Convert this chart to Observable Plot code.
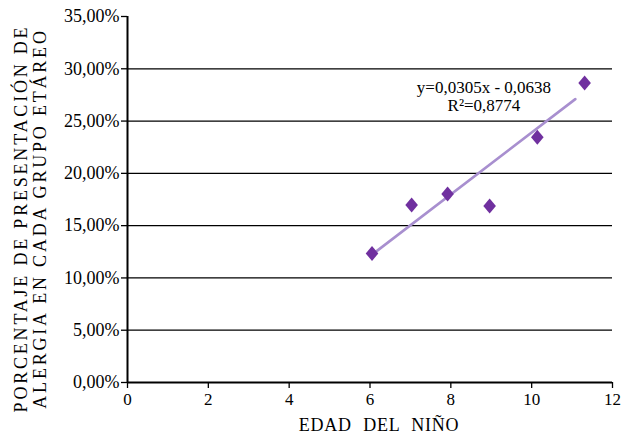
<!DOCTYPE html>
<html>
<head>
<meta charset="utf-8">
<script src="https://cdn.jsdelivr.net/npm/d3@7"></script>
<script src="https://cdn.jsdelivr.net/npm/@observablehq/plot@0.6"></script>
<style>
  html, body { margin: 0; padding: 0; background: #fff; }
</style>
</head>
<body>
<div id="chart"></div>
<script>
// Data
const ages = [6.05, 7.03, 7.92, 8.96, 10.14, 11.31];
const allergyPct = [0.1234, 0.1697, 0.1802, 0.1687, 0.2346, 0.2864];

const trendX = [6.14, 11.08];
const trendY = [0.1249, 0.2710];

const equationText = ["y=0,0305x - 0,0638\nR\u00B2=0,8774"];
const equationPos = {x: 8.82, y: 0.274};

const xTicks = [0, 2, 4, 6, 8, 10, 12];
const yTicks = [0, 0.05, 0.10, 0.15, 0.20, 0.25, 0.30, 0.35];
const gridTicks = [0.05, 0.10, 0.15, 0.20, 0.25, 0.30];

const yTitle = ["PORCENTAJE DE PRESENTACIÓN DE\nALERGIA EN CADA GRUPO ETÁREO"];
const xTitle = ["EDAD DEL NIÑO"];

const points = ages.map((a, i) => ({age: a, pct: allergyPct[i]}));
const trend = trendX.map((a, i) => ({age: a, pct: trendY[i]}));

const diamond = {
  draw(context, size) {
    const h = 7.5, w = 6.3;
    context.moveTo(0, -h);
    context.lineTo(w, 0);
    context.lineTo(0, h);
    context.lineTo(-w, 0);
    context.closePath();
  }
};

const fmtPct = d => (d * 100).toFixed(2).replace(".", ",") + "%";

const chart = Plot.plot({
  width: 630,
  height: 433,
  marginLeft: 127,
  marginRight: 18,
  marginTop: 16,
  marginBottom: 51,
  style: {fontFamily: "'Liberation Serif', 'Times New Roman', serif", fontSize: "16px", background: "#fff", color: "#000"},
  x: {domain: [0, 12]},
  y: {domain: [0, 0.35]},
  marks: [
    Plot.ruleY(gridTicks, {stroke: "#000", strokeWidth: 1.2}),
    Plot.axisY({ticks: yTicks, tickFormat: fmtPct, tickSize: 6, tickPadding: 2, label: null, fontSize: 18, stroke: "#000", strokeWidth: 1.3}),
    Plot.axisX({ticks: xTicks, tickFormat: d => String(d), tickSize: 6, tickPadding: 4, label: null, fontSize: 17, stroke: "#000", strokeWidth: 1.3}),
    Plot.ruleX([0], {y1: 0, y2: 0.35, stroke: "#000", strokeWidth: 2}),
    Plot.ruleY([0], {x1: 0, x2: 12, stroke: "#000", strokeWidth: 2}),
    Plot.line(trend, {x: "age", y: "pct", stroke: "#a88fcf", strokeWidth: 2.6}),
    Plot.dot(points, {x: "age", y: "pct", symbol: diamond, fill: "#70309f", stroke: "none", r: 7}),
    Plot.text(equationText, {x: () => equationPos.x, y: () => equationPos.y, text: d => d, fontSize: 17, lineHeight: 1.05, textAnchor: "middle", fill: "#000"}),
    Plot.text(yTitle, {text: d => d, frameAnchor: "left", textAnchor: "middle", lineAnchor: "middle", rotate: -90, dx: -97, dy: 19, lineHeight: 1.08, fontSize: 18, fill: "#000"}),
    Plot.text(xTitle, {text: d => d, frameAnchor: "bottom", dx: 9, dy: 48, fontSize: 18, fill: "#000"})
  ]
});
document.getElementById("chart").appendChild(chart);

d3.select(chart).selectAll("text")
  .filter(function() { return this.textContent.startsWith("PORCENTAJE"); })
  .style("letter-spacing", "2.8px");
d3.select(chart).selectAll("text")
  .filter(function() { return this.textContent.startsWith("EDAD"); })
  .style("letter-spacing", "0.8px")
  .style("word-spacing", "6px");
</script>
</body>
</html>
